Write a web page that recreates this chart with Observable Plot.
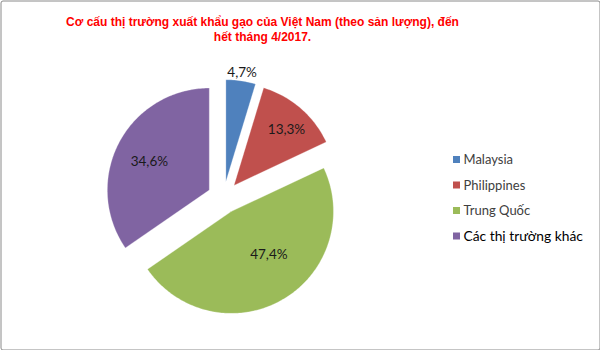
<!DOCTYPE html>
<html>
<head>
<meta charset="utf-8">
<script src="https://cdn.jsdelivr.net/npm/d3@7"></script>
<script src="https://cdn.jsdelivr.net/npm/@observablehq/plot@0.6"></script>
<style>
  html, body { margin: 0; padding: 0; background: #fff; }
</style>
</head>
<body>
<div id="chart"></div>
<script>
// ---- data ----
const titleLines = ["Cơ cấu thị trường xuất khẩu gạo của Việt Nam (theo sản lượng), đến", "hết tháng 4/2017."];
const markets = ["Malaysia", "Philippines", "Trung Quốc", "Các thị trường khác"];
const shares = [4.7, 13.3, 47.4, 34.6];
const labels = ["4,7%", "13,3%", "47,4%", "34,6%"];
const colors = ["#4F81BD", "#C0504D", "#9BBB59", "#8064A2"];

// ---- layout (pixels) ----
const W = 600, H = 350;
const cx = 223, cy = 197, R = 102, explode = 16;
// label placement relative to each slice (radius fraction, angle shift in degrees)
const labelRadius = [1.08, 0.75, 0.56, 0.65];
const labelShift = [0, 2.5, -11, -2.5];

const pie = d3.pie().sort(null).value(d => d.share)(
  markets.map((m, i) => ({ market: m, share: shares[i], label: labels[i] }))
);

const slicePts = [];
const labelPts = [];
pie.forEach((p, i) => {
  const mid = (p.startAngle + p.endAngle) / 2;
  const ox = cx + explode * Math.sin(mid);
  const oy = cy - explode * Math.cos(mid);
  const m = p.data.market;
  slicePts.push({ market: m, x: ox, y: oy });
  const n = Math.max(2, Math.ceil((p.endAngle - p.startAngle) / (Math.PI / 180)));
  for (let k = 0; k <= n; k++) {
    const a = p.startAngle + (p.endAngle - p.startAngle) * k / n;
    slicePts.push({ market: m, x: ox + R * Math.sin(a), y: oy - R * Math.cos(a) });
  }
  slicePts.push({ market: m, x: ox, y: oy });
  const la = mid + labelShift[i] * Math.PI / 180;
  const f = labelRadius[i];
  labelPts.push({ label: p.data.label, x: ox + f * R * Math.sin(la), y: oy - f * R * Math.cos(la) });
});

const legendY0 = 159.5, legendStep = 25.5, legendX = 453, box = 7;
const legend = markets.map((m, i) => ({ market: m, i, y: legendY0 + i * legendStep }));

const chart = Plot.plot({
  width: W,
  height: H,
  margin: 0,
  x: { domain: [0, W], range: [0, W], axis: null },
  y: { domain: [0, H], range: [0, H], axis: null },
  color: { domain: markets, range: colors },
  style: { background: "#fff" },
  marks: [
    Plot.frame({ stroke: "#8a8a8a", inset: 0.5, rx: 2 }),
    Plot.line(slicePts, { x: "x", y: "y", z: "market", fill: "market", stroke: "#ffffff", strokeOpacity: 0.35, strokeWidth: 0.8, curve: "linear" }),
    Plot.text(labelPts, { x: "x", y: "y", text: "label", fontFamily: "Lato", fontSize: 13.5, fill: "#1a1a1a" }),
    Plot.rect(legend, { x1: legendX, x2: legendX + box, y1: d => d.y - box / 2, y2: d => d.y + box / 2, fill: "market" }),
    Plot.text(legend.filter(d => d.i < 3), { x: legendX + box + 3, y: "y", text: "market", textAnchor: "start", fontFamily: "Lato", fontSize: 13, fill: "#404040" }),
    Plot.text(legend.filter(d => d.i === 3), { x: legendX + box + 3, y: "y", text: "market", textAnchor: "start", fontFamily: "Lato", fontSize: 13.8, fill: "#000" }),
    Plot.text(titleLines.map((t, i) => ({ t, y: 21.5 + i * 15 })), { x: 262, y: "y", text: "t", fontFamily: "Liberation Sans", fontWeight: "bold", fontSize: 12, fill: "#FF0000" })
  ]
});
document.getElementById("chart").append(chart);
</script>
</body>
</html>
